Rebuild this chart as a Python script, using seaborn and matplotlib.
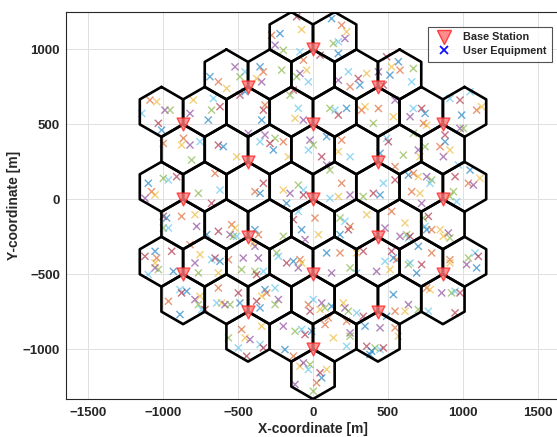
import matplotlib
matplotlib.use("Agg")
import numpy as np
import pandas as pd
import matplotlib.pyplot as plt
import seaborn as sns
from matplotlib.lines import Line2D

sns.set_style("white")
plt.rcParams["font.family"] = ["Liberation Sans", "DejaVu Sans"]

# 19-site hexagonal layout, inter-site distance 500 m, 3 sectors per site
ISD = 500.0
CELL_RADIUS = ISD / 3.0
SECTOR_ANGLES = [30, 150, 270]

site_x = [0.0, -433.0, 433.0, -866.0, 0.0, 866.0, -433.0, 433.0, -866.0, 0.0,
          866.0, -433.0, 433.0, -866.0, 0.0, 866.0, -433.0, 433.0, 0.0]
site_y = [1000.0, 750.0, 750.0, 500.0, 500.0, 500.0, 250.0, 250.0, 0.0, 0.0,
          0.0, -250.0, -250.0, -500.0, -500.0, -500.0, -750.0, -750.0, -1000.0]

# user equipment positions [m]
ue_x = [
    -687, -631, -576, -520, -487, -453, -487, -453, -1087, -1042, -987, -953, -1142, -1031,
    -1009, -998, -798, -820, -676, -664, -620, -698, -864, -876, -820, -809, -753, -631,
    -598, -653, -509, -431, -998, -964, -909, -1098, -1076, -1053, -1120, -764, -620, -676,
    -220, -276, -76, -253, -198, -87, -109, 124, 191, 224, 213, 136, 169, 47, 169, -64,
    -42, -87, -109, -31, -131, -353, -331, -376, -342, -209, 236, 302, 313, 247, 358, 169,
    -153, -98, -331, -342, -320, -120, -64, 113, 147, 169, 224, 324, 347, -320, -253, -353,
    -287, -264, -198, -164, -20, 2, -31, 58, 91, 191, 169, 91, 113, 247, -331, -353,
    -387, -198, -153, -98, -64, -64, -176, 191, 169, 247, 335, 113,
    491, 569, 580, 524, 436, 669, 658, 469, 513, 436, 536, 547, 402, 669, 724, 747,
    736, 758, 647, 669, 913, 980, 991, 1091, 1124, 980, 1002, 1047, 880, 880, 847, 913,
    869, 602, 491, 502, 447, 547, 713, 702, 747, 969, 947, 1047, 1036, 1113, 1069, 936,
    469, 547, 636, 669, 702, 758, 791, 780, 402, 447, 658, 713, 724, 913, 958,
    -998, -976, -876, -787, -776, -998, -964, -631, -709, -542, -520, -553, -531, -509,
    -1120, -1053, -1042, -1053, -1053, -1031, -1098, -942, -931, -820, -753, -787, -764, -676,
    -653, -620, -564, -631, -465, -476, -887, -876, -842, -964, -753, -787, -764, -742,
    -720, -887, -631, -609, -587, -553, -642, -498, -487, -476, -453, -420, -564, -498, -442,
    -387, -364, -398, -387, -198, -98, -131, -76, 13, 36, -53, 180, 213, 236, 180, 247,
    358, -364, -242, -231, -176, -131, -87, -76, -98, -387, -331, -376, 91, 180, 291, 124,
    247, 291, 335, -320, -309, -342, -231, -253, -253, -376, -353, -31, 47, 58, 80, 2,
    -20, 124, 102, 202, 213, 236, 291, 335, 347, 224, -342, -198, -120, -76, -53, -9,
    80, 136, 247, 247, -353, -331, -187, -131, -87, -64, -20, -31, 47, 58, 24, 91,
    -120, 2, 224, 358, 380,
    524, 613, 480, 736, 747, 769, 758, 791, 847, 580, 624, 636, 647, 702, 791, 869,
    902, 913, 480, 524, 536, 558, 513, 424, 636, 647, 724, 691, 913, 913, 1024, 1036,
    1080, 1102, 1091, 758, 780, 858, 924, 947, 980, 536, 547, 613, 636, 702, 769, 947,
    491, 547, 569, 447, 413, 447, 469, 391,
]
ue_y = [
    818, 784, 740, 884, 818, 851, 695, 718, 662, 651, 595, 595, 573, 507,
    462, 373, 662, 573, 595, 673, 618, 529, 407, 362, 362, 262, 384, 362,
    351, 173, 284, 440, 140, 129, 151, 107, 51, 29, 7, 40, 62, -27,
    1106, 1095, 1133, 1029, 995, 984, 1218, 1206, 1162, 1118, 1073, 1040, 1051, 962, 973, 929,
    862, 840, 818, 784, 729, 884, 851, 806, 784, 862, 851, 806, 762, 751, 840, 795,
    695, 607, 595, 529, 629, 540, 529, 607, 595, 562, 607, 595, 618, 429, 407, 384,
    373, 329, 384, 284, 395, 362, 329, 284, 418, 395, 318, 229, 195, 284, 107, 40,
    51, 62, 40, 95, 62, 29, -27, 107, 18, 29, 18, 7,
    951, 918, 862, 884, 851, 873, 784, 762, 829, 606, 551, 662, 507, 606, 606, 573,
    507, 495, 551, 440, 673, 662, 562, 595, 618, 473, 473, 718, 429, 384, 351, 329,
    284, 295, 407, 384, 307, 218, 284, 329, 351, 229, 151, 195, 107, 140, 95, 51,
    107, 129, 162, 173, 151, 151, 129, 107, 40, 29, 51, 40, -27, 18, -16,
    -114, -125, -114, -103, -181, -192, -192, -214, -236, -169, -192, -236, -247, -247,
    -381, -347, -392, -425, -458, -469, -503, -347, -481, -303, -369, -425, -492, -403,
    -392, -414, -403, -492, -392, -469, -603, -625, -614, -681, -647, -669, -703, -736,
    -736, -769, -592, -692, -703, -703, -692, -625, -692, -869, -925, -936, -925, -992, -1047,
    -203, -236, -292, -314, -247, -81, -136, -203, -125, -236, -269, -125, -147, -203, -236, -181,
    -103, -392, -358, -381, -425, -414, -403, -425, -458, -481, -481, -503, -358, -358, -358, -492,
    -458, -492, -347, -603, -625, -647, -669, -703, -592, -681, -725, -703, -736, -692, -725, -669,
    -747, -714, -792, -692, -725, -747, -758, -781, -847, -814, -847, -847, -881, -869, -903, -881,
    -836, -925, -892, -914, -969, -992, -1003, -1047, -1114, -1092, -1103, -1136, -1158, -1192, -1225, -1136,
    -1236, -1281, -981, -981, -1036,
    -81, -158, -192, -125, -181, -114, -203, -203, -203, -247, -236, -258, -247, -314, -358, -247,
    -225, -258, -414, -347, -392, -403, -469, -481, -436, -425, -436, -492, -403, -425, -436, -392,
    -358, -381, -458, -592, -603, -625, -625, -614, -625, -636, -747, -747, -703, -736, -747, -758,
    -781, -858, -914, -858, -992, -1003, -992, -1014,
]

x_ticks = [-1500, -1000, -500, 0, 500, 1000, 1500]
y_ticks = [-1000, -500, 0, 500, 1000]

ue_palette = ["#0072BD", "#D95319", "#EDB120", "#7E2F8E", "#77AC30", "#4DBEEE", "#A2142F"]

ue_df = pd.DataFrame({"x": ue_x, "y": ue_y})
ue_df["group"] = np.arange(len(ue_df)) % len(ue_palette)
bs_df = pd.DataFrame({"x": site_x, "y": site_y})

fig = plt.figure(figsize=(5.57, 4.37), dpi=100)
ax = fig.add_axes([65.5 / 557, 38 / 437, 495 / 557, 387 / 437])

sns.scatterplot(data=ue_df, x="x", y="y", hue="group", palette=ue_palette,
                marker="x", s=26, linewidth=1.0, alpha=0.6, legend=False,
                ax=ax, zorder=2)

# sector hexagons (pointy-top), one vertex shared at each site
vert_ang = np.deg2rad(90 + 60 * np.arange(7))
for sx, sy in zip(site_x, site_y):
    for a in SECTOR_ANGLES:
        cx = sx + CELL_RADIUS * np.cos(np.deg2rad(a))
        cy = sy + CELL_RADIUS * np.sin(np.deg2rad(a))
        ax.plot(cx + CELL_RADIUS * np.cos(vert_ang), cy + CELL_RADIUS * np.sin(vert_ang),
                color="black", lw=1.9, solid_joinstyle="round", zorder=3)

sns.scatterplot(data=bs_df, x="x", y="y", marker="v", s=85,
                color="#FF7A7A", edgecolor="#FF2a2a", linewidth=1.0, alpha=0.8,
                ax=ax, zorder=4)

ax.set_xlim(-1650, 1650)
ax.set_ylim(-1333, 1250)
ax.set_xticks(x_ticks)
ax.set_yticks(y_ticks)
ax.grid(True, color="#e0e0e0", lw=0.7)
ax.set_axisbelow(True)
ax.tick_params(direction="in", length=3, width=0.6, colors="#262626", labelsize=9.5)
ax.tick_params(axis="x", pad=6)
ax.tick_params(axis="y", pad=4)
for lbl in ax.get_xticklabels() + ax.get_yticklabels():
    lbl.set_fontweight("bold")
for sp in ax.spines.values():
    sp.set_color("#262626")
    sp.set_linewidth(0.8)
ax.spines["right"].set_visible(False)

ax.set_xlabel("X-coordinate [m]", fontsize=10, fontweight="bold", color="#262626", labelpad=2)
ax.set_ylabel("Y-coordinate [m]", fontsize=10, fontweight="bold", color="#262626", labelpad=1)

handles = [
    Line2D([], [], linestyle="none", marker="v", markersize=9.5,
           markerfacecolor="#FF8080", markeredgecolor="#FF3030", alpha=0.9),
    Line2D([], [], linestyle="none", marker="x", markersize=6,
           markeredgecolor="#1010FF", markeredgewidth=1.3),
]
leg = ax.legend(handles, ["Base Station", "User Equipment"], loc="upper right",
                bbox_to_anchor=(552 / 557, 1 - 27 / 437), bbox_transform=fig.transFigure,
                borderaxespad=0, frameon=True, fancybox=False, edgecolor="#262626",
                prop={"size": 7.8, "weight": "bold"}, handlelength=1.8,
                handletextpad=0.9, borderpad=0.5, labelspacing=0.35)
leg.get_frame().set_linewidth(0.8)

fig.savefig("out.png", dpi=100)
